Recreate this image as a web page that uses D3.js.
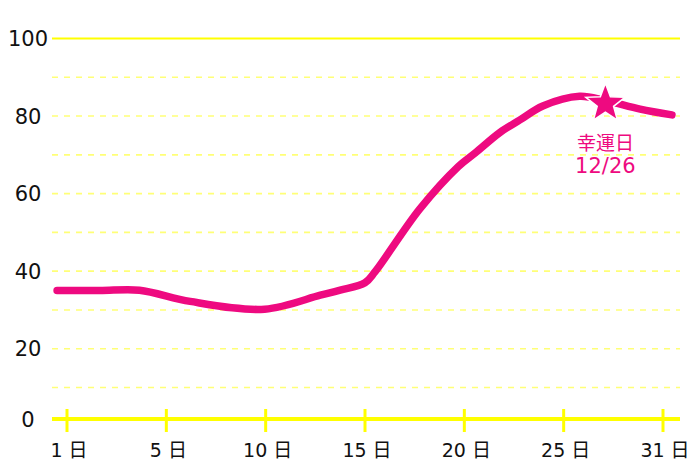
<!DOCTYPE html>
<html><head><meta charset="utf-8">
<script src="https://cdn.jsdelivr.net/npm/d3@7"></script>
<style>
html,body{margin:0;padding:0;background:#fff;}
svg{display:block;}
text{font-family:"DejaVu Sans","Noto Sans CJK JP",sans-serif;}
</style></head>
<body><svg id="chart" width="700" height="467"></svg>
<script>
// ---- data ----
const xTickLabels = ["1 日","5 日","10 日","15 日","20 日","25 日","31 日"];
const yTickValues = [0,20,40,60,80,100];
const gridValues = [10,20,30,40,50,60,70,80,90];
// line positions expressed in tick-index units (0 = "1日", 6 = "31日")
const linePos = [-0.1,0.33,0.73,1.24,1.99,2.55,2.75,3.0,3.1,3.55,3.94,4.11,4.36,4.56,4.79,5.16,5.42,5.77,6.09];
const lineVal = [35,35,35.1,32.2,30.2,33.8,35.1,37,39.8,56,67,70.5,75.8,79,82.6,85.1,84,81.8,80.3];
const luckyPos = 5.42;
const luckyVal = 83.2;
const luckyLabel = ["幸運日","12/26"];

// ---- scales ----
const svg = d3.select("#chart");
const pink = "#ee0a80";
const x = d3.scaleLinear().domain([0,6]).range([67,663]);
const xBand = d3.scalePoint().domain(xTickLabels).range([67,663]);
const y = d3.scaleLinear().domain([0,10,100]).range([419,387.5,38.5]);
const x0 = 52, x1 = 680;

// grid
svg.append("g").selectAll("line").data(gridValues).join("line")
  .attr("x1",x0).attr("x2",x1)
  .attr("y1",d=>y(d)).attr("y2",d=>y(d))
  .attr("stroke","#ffff77").attr("stroke-width",1.6)
  .attr("stroke-dasharray","6,6");
// top solid line
svg.append("line").attr("x1",x0).attr("x2",x1)
  .attr("y1",y(100)).attr("y2",y(100))
  .attr("stroke","#ffff00").attr("stroke-width",2);

// y labels
svg.append("g").selectAll("text").data(yTickValues).join("text")
  .attr("x",28).attr("y",d=>y(d)).attr("dy","0.36em")
  .attr("text-anchor","middle").attr("font-size",21).attr("fill","#111")
  .text(d=>d);

// x axis
const xAxis = d3.axisBottom(xBand).tickSize(0).tickPadding(0);
const gx = svg.append("g").attr("transform",`translate(0,${y(0)})`).call(xAxis);
gx.select(".domain").remove();
gx.selectAll("text").remove();
svg.append("line").attr("x1",x0).attr("x2",x1)
  .attr("y1",y(0)).attr("y2",y(0))
  .attr("stroke","#ffff00").attr("stroke-width",4);
svg.append("g").selectAll("line").data(xTickLabels).join("line")
  .attr("x1",d=>xBand(d)).attr("x2",d=>xBand(d))
  .attr("y1",y(0)-10).attr("y2",y(0)+13)
  .attr("stroke","#ffff00").attr("stroke-width",3);
svg.append("g").selectAll("text").data(xTickLabels).join("text")
  .attr("x",d=>xBand(d)+2).attr("y",y(0)+38)
  .attr("text-anchor","middle").attr("font-size",19).attr("fill","#111")
  .text(d=>d);

// line
const pts = linePos.map((p,i)=>[p,lineVal[i]]);
const line = d3.line().x(d=>x(d[0])).y(d=>y(d[1])).curve(d3.curveCatmullRom.alpha(0.5));
svg.append("path").datum(pts).attr("d",line)
  .attr("fill","none").attr("stroke",pink).attr("stroke-width",7.5)
  .attr("stroke-linecap","round").attr("stroke-linejoin","round");

// star
const R = 20.5, r = 8.6;
const starPts = d3.range(10).map(i=>{
  const a = -Math.PI/2 + i*Math.PI/5;
  const rad = i%2===0 ? R : r;
  return [rad*Math.cos(a), rad*Math.sin(a)];
});
const cx = x(luckyPos), cy = y(luckyVal);
svg.append("path")
  .attr("d", "M"+starPts.map(p=>p.join(",")).join("L")+"Z")
  .attr("transform",`translate(${cx},${cy})`)
  .attr("fill",pink).attr("stroke","#fff").attr("stroke-width",1.5);

// annotation
svg.append("g").selectAll("text").data(luckyLabel).join("text")
  .attr("x",cx).attr("y",(d,i)=>cy+46+i*23)
  .attr("text-anchor","middle").attr("font-size",(d,i)=>i===0?19:21).attr("fill",pink)
  .text(d=>d);
</script></body></html>
